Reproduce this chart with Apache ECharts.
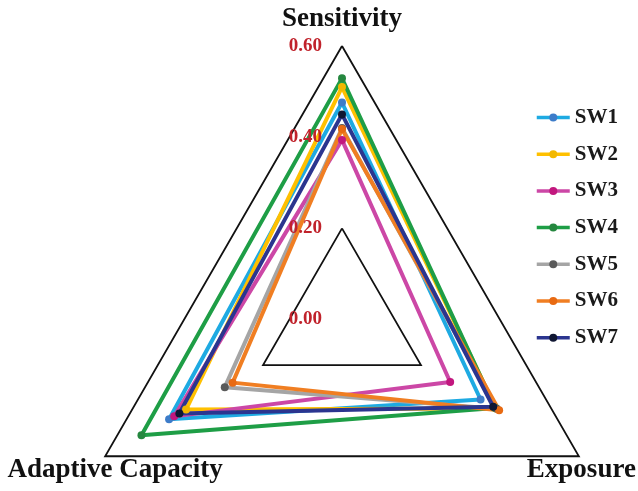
<!DOCTYPE html>
<html>
<head>
<meta charset="utf-8">
<script src="https://cdn.jsdelivr.net/npm/echarts@6/dist/echarts.min.js"></script>
<style>html,body{margin:0;padding:0;background:#fff}#c{width:638px;height:491px}</style>
</head>
<body>
<div id="c"></div>
<script>
// Indicators (ECharts radar goes counter-clockwise from top)
const indicators = ['Sensitivity', 'Adaptive Capacity', 'Exposure'];
const axisTicks = [0, 0.2, 0.4, 0.6];
const seriesNames = ['SW1', 'SW2', 'SW3', 'SW4', 'SW5', 'SW6', 'SW7'];
// values: [Sensitivity, Adaptive Capacity, Exposure]
const SW1 = [0.476, 0.438, 0.351];
const SW2 = [0.510, 0.395, 0.390];
const SW3 = [0.394, 0.425, 0.274];
const SW4 = [0.529, 0.508, 0.388];
const SW5 = [0.420, 0.297, 0.392];
const SW6 = [0.418, 0.277, 0.398];
const SW7 = [0.450, 0.412, 0.383];
const seriesValues = [SW1, SW2, SW3, SW4, SW5, SW6, SW7];

const lineColors = ['#1EAAE2', '#FFC000', '#CC47A6', '#1E9E46', '#A5A5A5', '#F07E22', '#2B358F'];
const markerColors = ['#3D7CC9', '#F2B800', '#C2177E', '#25873F', '#5A5A5A', '#E86A12', '#101733'];

const serif = "'Liberation Serif', 'Times New Roman', serif";

const chart = echarts.init(document.getElementById('c'), null, {renderer: 'canvas'});

const nameStyles = [
  {align: 'center', verticalAlign: 'bottom', padding: [0, 0, 0, 0]},
  {align: 'center', verticalAlign: 'top', padding: [0, 0, 0, 20]},
  {align: 'center', verticalAlign: 'top', padding: [0, 0, 0, 5]}
];
const nameGaps = [13, 0, 0];

const indicatorOpt = indicators.map((n, i) => {
  const o = {
    name: n, min: axisTicks[0], max: axisTicks[axisTicks.length - 1],
    nameGap: nameGaps[i],
    nameTextStyle: Object.assign({
      color: '#111', fontSize: 27, fontWeight: 'bold', fontFamily: serif
    }, nameStyles[i])
  };
  if (i === 0) {
    o.axisLabel = {
      show: true, color: '#C0222B', fontSize: 19, fontWeight: 'bold', fontFamily: serif,
      margin: 20, showMinLabel: true, showMaxLabel: true,
      formatter: v => Number(v).toFixed(2)
    };
  }
  return o;
});

const legendSeries = seriesNames.map((n, i) => ({
  type: 'line', name: n, data: [], symbol: 'circle',
  xAxisIndex: 0, yAxisIndex: 0,
  lineStyle: {color: lineColors[i], width: 3.5},
  itemStyle: {color: markerColors[i]}
}));

const radarSeries = seriesNames.map((n, i) => ({
  type: 'radar', name: n, z: 2,
  symbol: 'circle', symbolSize: 8,
  lineStyle: {color: lineColors[i], width: 4},
  itemStyle: {color: markerColors[i]},
  data: [{value: seriesValues[i], name: n}]
}));

chart.setOption({
  animation: false,
  backgroundColor: '#fff',
  grid: {show: false, left: 0, top: 0, width: 1, height: 1},
  xAxis: {show: false, type: 'category', data: []},
  yAxis: {show: false, type: 'value'},
  legend: {
    orient: 'vertical', left: 530, top: 102,
    itemWidth: 33, itemHeight: 10, itemGap: 15.7,
    textStyle: {fontSize: 21, lineHeight: 20, fontWeight: 'bold', fontFamily: serif, color: '#1a1a1a'},
    data: seriesNames.map((n, i) => ({
      name: n,
      lineStyle: {color: lineColors[i], width: 3.5},
      itemStyle: {color: markerColors[i], borderWidth: 0}
    }))
  },
  radar: {
    z: 10,
    center: [342, 319.5], radius: 273.5,
    startAngle: 90, shape: 'polygon', splitNumber: 3,
    indicator: indicatorOpt,
    axisLine: {show: false},
    axisTick: {show: false},
    splitArea: {show: false},
    splitLine: {show: true, lineStyle: {color: ['rgba(0,0,0,0)', '#111', 'rgba(0,0,0,0)', '#111'], width: 1.8}}
  },
  series: legendSeries.concat(radarSeries)
});
</script>
</body>
</html>
